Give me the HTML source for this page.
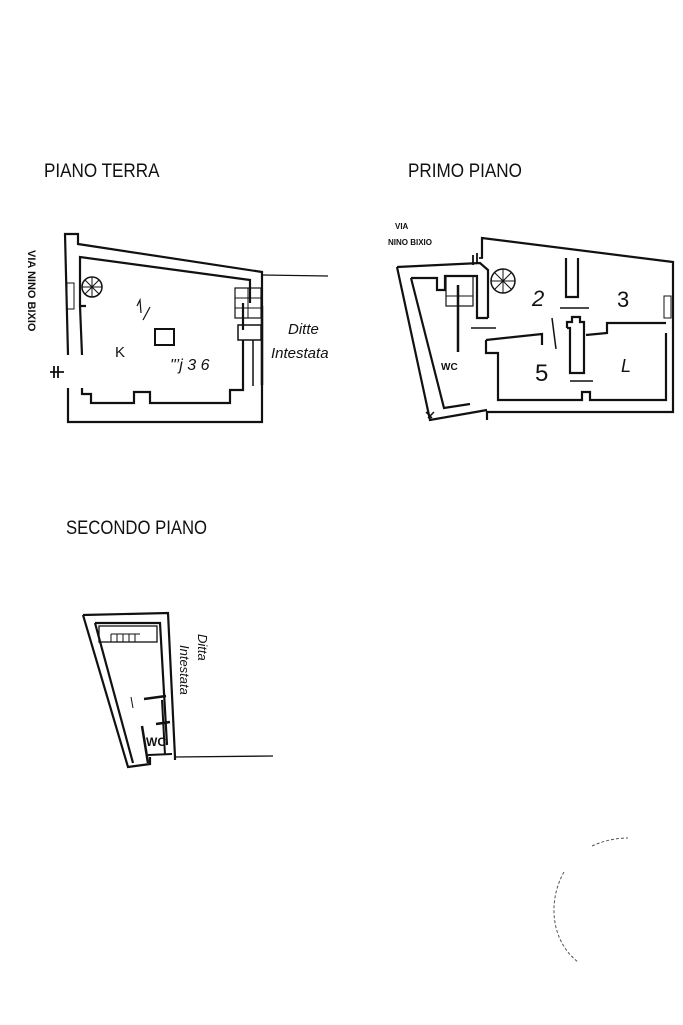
<!DOCTYPE html>
<html><head><meta charset="utf-8"><style>
html,body{margin:0;padding:0;background:#fff;}
svg{display:block;}
text{font-family:"Liberation Sans",sans-serif;fill:#111;}
</style></head><body>
<svg width="683" height="1025" viewBox="0 0 683 1025" xmlns="http://www.w3.org/2000/svg">
<g fill="none" stroke="#111" stroke-width="2.2" stroke-linejoin="miter">
<!-- PIANO TERRA -->
<polyline points="68,355 65,234 78,234 78,244 262,272 262,385"/>
<polyline points="82,355 80,306 86,306 80,306 80,257 250,280 250,303"/>
<polyline points="68,388 68,422 262,422 262,385"/>
<polyline points="82,388 82,394 91,394 91,403 134,403 134,392 150,392 150,403 230,403 230,390 243,390 243,340"/>
<line x1="243" y1="303" x2="243" y2="330"/>
<line x1="262" y1="275" x2="328" y2="276" stroke-width="1.3"/>
<rect x="235" y="288" width="26" height="30" stroke-width="1.2"/>
<line x1="235" y1="298" x2="261" y2="298" stroke-width="1"/>
<line x1="235" y1="308" x2="261" y2="308" stroke-width="1"/>
<line x1="248" y1="288" x2="248" y2="318" stroke-width="1"/>
<rect x="238" y="325" width="23" height="15" stroke-width="1.5"/>
<line x1="253" y1="340" x2="253" y2="386" stroke-width="1.5"/>
<rect x="155" y="329" width="19" height="16" stroke-width="2"/>
<circle cx="92" cy="287" r="10" stroke-width="1.5"/>
<path d="M92,277 L92,297 M82,287 L102,287 M85,280 L99,294 M99,280 L85,294" stroke-width="1"/>
<rect x="67" y="283" width="7" height="26" stroke-width="1"/>
<path d="M50,372 L64,372 M54,366 L54,378 M58,366 L58,378" stroke-width="1.8"/>
<path d="M137,306 L140,300 L141,313 M143,320 L150,307" stroke-width="1.2"/>
<line x1="262" y1="306" x2="262" y2="385" stroke-width="2.5"/>
<!-- PRIMO PIANO -->
<polyline points="482,258 482,238 673,262 673,412 487,412 487,420"/>
<polyline points="397,267 480,263 488,270 488,318"/>
<polyline points="397,267 430,420 487,410"/>
<polyline points="411,278 437,278 437,290 445,290 445,276 477,276 477,318 488,318"/>
<polyline points="411,278 444,408 470,404"/>
<polyline points="486,340 486,353 498,353 498,400 582,400 582,392 590,392 590,400 666,400 666,333"/>
<polyline points="486,340 542,334 542,345"/>
<polyline points="666,323 607,323 607,333 586,335"/>
<polyline points="566,258 566,297 578,297 578,258"/>
<line x1="570" y1"=335" x2="0" y2="0" stroke="none"/>
<polyline points="567,328 567,322 572,322 572,317 580,317 580,322 584,322 584,373 570,373 570,328 567,328"/>
<line x1="560" y1="308" x2="589" y2="308" stroke-width="1.5"/>
<line x1="570" y1="381" x2="593" y2="381" stroke-width="1.5"/>
<line x1="552" y1="318" x2="556" y2="349" stroke-width="1.5"/>
<line x1="471" y1="328" x2="496" y2="328" stroke-width="1.5"/>
<line x1="458" y1="285" x2="458" y2="352" stroke-width="2.5"/>
<rect x="446" y="276" width="27" height="30" stroke-width="1.2"/>
<line x1="446" y1="296" x2="473" y2="296" stroke-width="1"/>
<circle cx="503" cy="281" r="12" stroke-width="1.5"/>
<path d="M503,269 L503,293 M491,281 L515,281 M494,272 L512,290 M512,272 L494,290" stroke-width="1"/>
<rect x="664" y="296" width="7" height="22" stroke-width="1"/>
<path d="M473,255 L473,265 M477,253 L477,263 M479,258 L483,258" stroke-width="1.8"/>
<path d="M426,412 L432,418 M428,418 L434,412" stroke-width="1.5"/>
<!-- SECONDO PIANO -->
<polyline points="83,615 168,613 175,757 175,760"/>
<polyline points="83,615 128,767 150,764 150,757"/>
<polyline points="95,623 160,623 167,745"/>
<polyline points="95,623 133,763"/>
<rect x="99" y="626" width="58" height="16" stroke-width="1.3"/>
<path d="M111,634 L111,642 M117,634 L117,642 M123,634 L123,642 M129,634 L129,642 M135,634 L135,642 M111,634 L140,634" stroke-width="1"/>
<line x1="144" y1="699" x2="166" y2="696" stroke-width="2.5"/>
<line x1="156" y1="724" x2="170" y2="722" stroke-width="2.5"/>
<line x1="142" y1="726" x2="148" y2="763" stroke-width="2.5"/>
<line x1="162" y1="700" x2="165" y2="755" stroke-width="2"/>
<line x1="148" y1="755" x2="172" y2="754" stroke-width="2"/>
<line x1="175" y1="757" x2="273" y2="756" stroke-width="1.3"/>
<line x1="131" y1="697" x2="133" y2="708" stroke-width="1"/>
</g>
<!-- stamp -->
<path d="M564,872 C548,900 550,940 578,962 M592,846 C605,840 618,838 628,838" fill="none" stroke="#555" stroke-width="1" stroke-dasharray="3,2"/>
<!-- labels -->
<text x="44" y="177" font-size="19" transform="translate(44,0) scale(0.9,1) translate(-44,0)">PIANO TERRA</text>
<text x="408" y="177" font-size="19" transform="translate(408,0) scale(0.9,1) translate(-408,0)">PRIMO PIANO</text>
<text x="66" y="534" font-size="19" transform="translate(66,0) scale(0.88,1) translate(-66,0)">SECONDO PIANO</text>
<text x="115" y="357" font-size="15">K</text>
<text x="170" y="370" font-size="16" font-family="Liberation Serif" font-style="italic">"&#8217;j 3 6</text>
<text x="288" y="334" font-size="15" font-family="Liberation Mono" font-style="italic">Ditte</text>
<text x="271" y="358" font-size="15" font-family="Liberation Mono" font-style="italic">Intestata</text>
<text font-size="11" font-weight="bold" transform="translate(28,250) rotate(90)">VIA NINO BIXIO</text>
<text x="395" y="229" font-size="8" font-weight="bold">VIA</text>
<text x="388" y="245" font-size="8" font-weight="bold">NINO BIXIO</text>
<text x="532" y="306" font-size="22" font-style="italic">2</text>
<text x="617" y="307" font-size="22">3</text>
<text x="535" y="381" font-size="24">5</text>
<text x="621" y="372" font-size="18" font-style="italic">L</text>
<text x="441" y="370" font-size="10" font-weight="bold">WC</text>
<text x="146" y="746" font-size="12" font-weight="bold">WC</text>
<text font-size="13" font-family="Liberation Mono" font-style="italic" transform="translate(198,634) rotate(90)">Ditta</text>
<text font-size="13" font-family="Liberation Mono" font-style="italic" transform="translate(180,645) rotate(90)">Intestata</text>
</svg>
</body></html>
